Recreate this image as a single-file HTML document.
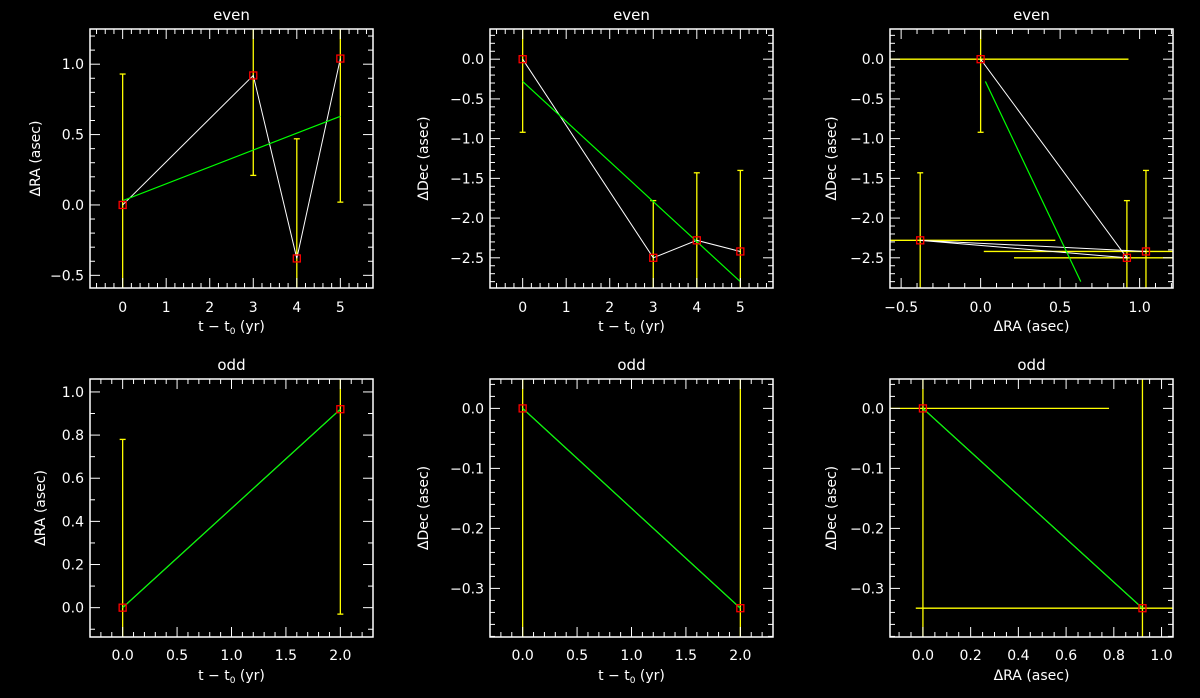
<!DOCTYPE html>
<html><head><meta charset="utf-8"><style>
html,body{margin:0;padding:0;background:#000;width:1200px;height:698px;overflow:hidden;}
svg{display:block;}
text{font-family:"DejaVu Sans","Liberation Sans",sans-serif;fill:#fff;}
</style></head><body>
<svg id="chart" width="1200" height="698" viewBox="0 0 1200 698" xmlns="http://www.w3.org/2000/svg"></svg>
<script>
// ---- data ----
const evenTimes = [0, 3, 4, 5];
const evenRA = [0, 0.92, -0.38, 1.04];
const evenRAErr = [0.93, 0.71, 0.85, 1.02];
const evenDec = [0, -2.5, -2.28, -2.42];
const evenDecErr = [0.92, 0.72, 0.85, 1.02];
const evenFitT = [0, 5];
const evenFitRA = [0.03, 0.63];
const evenFitDec = [-0.28, -2.8];
const oddTimes = [0, 2];
const oddRA = [0, 0.92];
const oddRAErr = [0.78, 0.95];
const oddDec = [0, -0.333];
const oddDecErr = [1.0, 1.0];
const oddFitT = [0, 2];
const oddFitRA = [0, 0.92];
const oddFitDec = [0, -0.333];

const NS = "http://www.w3.org/2000/svg";
const svg = document.getElementById('chart');
function mk(tag, attrs, parent) {
  const e = document.createElementNS(NS, tag);
  for (const k in attrs) e.setAttribute(k, attrs[k]);
  (parent || svg).appendChild(e);
  return e;
}
function fmt(v, d) {
  const s = Math.abs(v).toFixed(d);
  return (v < -1e-9 ? "\u2212" : "") + s;
}

function panel(cfg) {
  const g = mk('g', {});
  
  
  const L = cfg.x0, R = cfg.x1, T = cfg.y0, B = cfg.y1;
  const sx = v => L + (v - cfg.xr[0]) / (cfg.xr[1] - cfg.xr[0]) * (R - L);
  const sy = v => B - (v - cfg.yr[0]) / (cfg.yr[1] - cfg.yr[0]) * (B - T);
  const clip = 'clip-' + cfg.name;
  const cp = mk('clipPath', {id: clip}, g);
  mk('rect', {x: L, y: T, width: R - L, height: B - T}, cp);
  const plot = mk('g', {'clip-path': 'url(#' + clip + ')'}, g);
  
  

  const tk = mk('g', {stroke: '#fff', 'stroke-width': 1}, g);
  
  
  const eps = 1e-6;
  let start = Math.ceil(cfg.xr[0] / cfg.xmin - eps);
  for (let i = start; i * cfg.xmin <= cfg.xr[1] + eps; i++) {
    const v = i * cfg.xmin, x = sx(v);
    const major = Math.abs(v / cfg.xmaj - Math.round(v / cfg.xmaj)) < 1e-4;
    const len = major ? 10 : 5;
    mk('line', {x1: x, y1: B, x2: x, y2: B - len}, tk);
    mk('line', {x1: x, y1: T, x2: x, y2: T + len}, tk);
    if (major) {
      const t = mk('text', {x: x, y: cfg.xlabY, 'text-anchor': 'middle', 'font-size': 14}, g);
      
      
      t.textContent = fmt(v, cfg.xdec);
    }
  }
  start = Math.ceil(cfg.yr[0] / cfg.ymin - eps);
  for (let i = start; i * cfg.ymin <= cfg.yr[1] + eps; i++) {
    const v = i * cfg.ymin, y = sy(v);
    const major = Math.abs(v / cfg.ymaj - Math.round(v / cfg.ymaj)) < 1e-4;
    const len = major ? 10 : 5;
    mk('line', {x1: L, y1: y, x2: L + len, y2: y}, tk);
    mk('line', {x1: R, y1: y, x2: R - len, y2: y}, tk);
    if (major) {
      const t = mk('text', {x: L - 6, y: y + 5, 'text-anchor': 'end', 'font-size': 14}, g);
      
      
      t.textContent = fmt(v, cfg.ydec);
    }
  }
  const box = mk('rect', {x: L, y: T, width: R - L, height: B - T, fill: 'none', stroke: '#fff', 'stroke-width': 1.5}, g);
  
  

  const title = mk('text', {x: (L + R) / 2, y: T - 9, 'text-anchor': 'middle', 'font-size': 15}, g);
  
  
  title.textContent = cfg.title;
  const xt = mk('text', {x: (L + R) / 2, y: cfg.xtitY, 'text-anchor': 'middle', 'font-size': 14}, g);
  
  
  if (cfg.xtime) {
    xt.innerHTML = 't \u2212 t<tspan font-size="9" dy="3">0</tspan><tspan dy="-3"> (yr)</tspan>';
  } else xt.textContent = cfg.xtitle;
  const cy = (T + B) / 2;
  const yt = mk('text', {x: cfg.ytitX, y: cy, 'text-anchor': 'middle', 'font-size': 14, transform: 'rotate(-90 ' + cfg.ytitX + ' ' + cy + ')'}, g);
  
  
  yt.textContent = cfg.ytitle;

  const X = cfg.xs, Y = cfg.ys;
  for (let i = 0; i < X.length; i++) {
    if (cfg.yerr) {
      const x = sx(X[i]), y1 = sy(Y[i] + cfg.yerr[i]), y2 = sy(Y[i] - cfg.yerr[i]);
      const eb = mk('g', {stroke: '#ffff00', 'stroke-width': 1.3}, plot);
      
      
      mk('line', {x1: x, y1: y1, x2: x, y2: y2}, eb);
      mk('line', {x1: x - 3, y1: y1, x2: x + 3, y2: y1}, eb);
      mk('line', {x1: x - 3, y1: y2, x2: x + 3, y2: y2}, eb);
    }
    if (cfg.xerr) {
      const y = sy(Y[i]), x1 = sx(X[i] - cfg.xerr[i]), x2 = sx(X[i] + cfg.xerr[i]);
      const eb = mk('line', {x1: x1, y1: y, x2: x2, y2: y, stroke: '#ffff00', 'stroke-width': 1.3}, plot);
      
      
    }
  }
  let d = '';
  for (let i = 0; i < X.length; i++) d += (i ? 'L' : 'M') + sx(X[i]) + ' ' + sy(Y[i]);
  const cl = mk('path', {d: d, fill: 'none', stroke: '#fff', 'stroke-width': 1}, plot);
  
  
  const fl = mk('line', {x1: sx(cfg.fx[0]), y1: sy(cfg.fy[0]), x2: sx(cfg.fx[1]), y2: sy(cfg.fy[1]), stroke: '#00ff00', 'stroke-width': 1.2}, plot);
  
  
  for (let i = 0; i < X.length; i++) {
    const m = mk('rect', {x: sx(X[i]) - 3.5, y: sy(Y[i]) - 3.5, width: 7, height: 7, fill: 'none', stroke: '#ff0000', 'stroke-width': 1.3}, plot);
    
    
  }
}

const topRow = {y0: 29, y1: 288, xlabY: 312, xtitY: 331};
const botRow = {y0: 379, y1: 637, xlabY: 660, xtitY: 680};
function merge(a, b) { return Object.assign({}, a, b); }

panel(merge(topRow, {name: 'panel-even-ra', x0: 90, x1: 373, ytitX: 40, xr: [-0.75, 5.75], yr: [-0.59, 1.25],
  xmaj: 1, xmin: 0.2, ymaj: 0.5, ymin: 0.1, xdec: 0, ydec: 1, title: 'even', xtime: true, ytitle: '\u0394RA (asec)',
  xs: evenTimes, ys: evenRA, yerr: evenRAErr, fx: evenFitT, fy: evenFitRA}));
panel(merge(topRow, {name: 'panel-even-dec', x0: 490, x1: 773, ytitX: 428, xr: [-0.75, 5.75], yr: [-2.88, 0.38],
  xmaj: 1, xmin: 0.2, ymaj: 0.5, ymin: 0.1, xdec: 0, ydec: 1, title: 'even', xtime: true, ytitle: '\u0394Dec (asec)',
  xs: evenTimes, ys: evenDec, yerr: evenDecErr, fx: evenFitT, fy: evenFitDec}));
panel(merge(topRow, {name: 'panel-even-radec', x0: 890, x1: 1173, ytitX: 836, xr: [-0.57, 1.21], yr: [-2.88, 0.38],
  xmaj: 0.5, xmin: 0.1, ymaj: 0.5, ymin: 0.1, xdec: 1, ydec: 1, title: 'even', xtitle: '\u0394RA (asec)', ytitle: '\u0394Dec (asec)',
  xs: evenRA, ys: evenDec, xerr: evenRAErr, yerr: evenDecErr, fx: evenFitRA, fy: evenFitDec}));
panel(merge(botRow, {name: 'panel-odd-ra', x0: 90, x1: 373, ytitX: 45, xr: [-0.3, 2.3], yr: [-0.136, 1.06],
  xmaj: 0.5, xmin: 0.1, ymaj: 0.2, ymin: 0.1, xdec: 1, ydec: 1, title: 'odd', xtime: true, ytitle: '\u0394RA (asec)',
  xs: oddTimes, ys: oddRA, yerr: oddRAErr, fx: oddFitT, fy: oddFitRA}));
panel(merge(botRow, {name: 'panel-odd-dec', x0: 490, x1: 773, ytitX: 428, xr: [-0.3, 2.3], yr: [-0.381, 0.049],
  xmaj: 0.5, xmin: 0.1, ymaj: 0.1, ymin: 0.02, xdec: 1, ydec: 1, title: 'odd', xtime: true, ytitle: '\u0394Dec (asec)',
  xs: oddTimes, ys: oddDec, yerr: oddDecErr, fx: oddFitT, fy: oddFitDec}));
panel(merge(botRow, {name: 'panel-odd-radec', x0: 890, x1: 1173, ytitX: 836, xr: [-0.138, 1.048], yr: [-0.381, 0.049],
  xmaj: 0.2, xmin: 0.05, ymaj: 0.1, ymin: 0.02, xdec: 1, ydec: 1, title: 'odd', xtitle: '\u0394RA (asec)', ytitle: '\u0394Dec (asec)',
  xs: oddRA, ys: oddDec, xerr: oddRAErr, yerr: oddDecErr, fx: oddFitRA, fy: oddFitDec}));
</script>
</body></html>
